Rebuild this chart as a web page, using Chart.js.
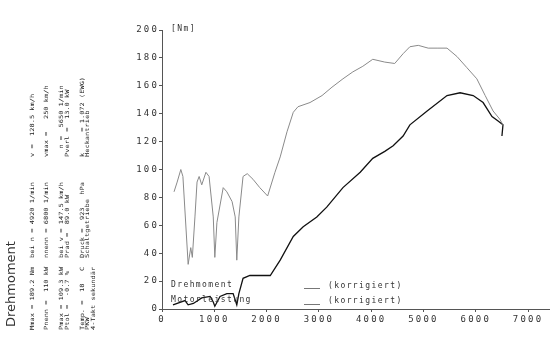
<!DOCTYPE html>
<html>
<head>
<meta charset="utf-8">
<script src="https://cdn.jsdelivr.net/npm/chart.js@4/dist/chart.umd.min.js"></script>
<style>
html,body{margin:0;padding:0;background:#fff;}
#wrap{width:550px;height:354px;}
</style>
</head>
<body>
<div id="wrap"><canvas id="c" width="550" height="354"></canvas></div>
<script>
// ---- data ----
const rpmTorque = [230,290,360,400,500,550,580,630,670,710,760,840,900,980,1010,1050,1170,1240,1340,1400,1430,1470,1550,1630,1740,1870,2020,2160,2260,2390,2510,2600,2830,3060,3250,3460,3650,3840,4030,4260,4450,4610,4740,4900,5090,5260,5450,5640,5830,6020,6180,6330,6460,6520];
const torqueNm  = [84,91,100,95,32,44,37,66,91,95,89,98,95,66,37,62,87,84,77,66,35,66,95,97,93,87,81,98,109,127,141,145,148,153,159,165,170,174,179,177,176,183,188,189,187,187,187,181,173,165,153,142,136,132];

const rpmPower = [210,440,500,600,760,920,980,1010,1110,1240,1360,1430,1470,1550,1680,2010,2070,2260,2510,2700,2960,3150,3460,3790,4030,4260,4420,4610,4740,5070,5450,5700,5950,6140,6310,6420,6520,6500];
const powerKW  = [2.1,4.2,2.1,2.8,5.6,6.3,3.5,1.4,6.3,7.7,7.7,2.1,7.7,15.4,16.8,16.8,16.8,24.5,36.4,41.3,46.2,51.1,60.9,68.6,75.6,79.1,81.9,86.8,92.4,99.4,107.1,108.5,107.1,103.6,96.6,94.5,92.4,86.8];

const xTicks = [0,1000,2000,3000,4000,5000,6000,7000];
const yTicks = [0,20,40,60,80,100,120,140,160,180,200];

const legendNames = ['Drehmoment','Motorleistung'];
const legendNote = '(korrigiert)';
const unitLabel = '[Nm]';
const sideTitle = 'Drehmoment';
const sideInfo = [
  ['Mmax = 189.2 Nm','bei n = 4920 1/min','v =  128.5 km/h'],
  ['Pnenn =  110 kW','nnenn = 6800 1/min','vmax =   250 km/h'],
  ['Pmax = 109.3 kW','bei v = 147.5 km/h','  n =  5650 1/min'],
  ['Ptol =  -0.7 %','Prad =  89.0 kW','Pverl =  13.0 kW'],
  ['Temp. =  18   C','Druck =  923   hPa','k     = 1.072 (EWG)'],
  ['PKW','Schaltgetriebe','Heckantrieb'],
  ['4-Takt sekundär','','']
];

// ---- layout ----
const sideLineX = [33,47,61.5,67.5,82.5,88,93.5];
const sideColY = [330,258,157];

const torquePts = rpmTorque.map((r,i)=>({x:r,y:torqueNm[i]}));
const powerPts = rpmPower.map((r,i)=>({x:r,y:powerKW[i]}));

const decor = {
  id:'decor',
  beforeDraw(chart){ chart.ctx.letterSpacing = '2.2px'; },
  beforeDatasetsDraw(chart){ chart.ctx.letterSpacing = '0px'; },
  afterDraw(chart){
    const ctx = chart.ctx;
    ctx.save();
    ctx.letterSpacing = '0px';
    ctx.fillStyle = '#333';
    ctx.font = '13px "DejaVu Sans"';
    ctx.textBaseline = 'middle';
    ctx.textAlign = 'left';
    ctx.save(); ctx.translate(12, 327); ctx.rotate(-Math.PI/2); ctx.fillText(sideTitle,0,0); ctx.restore();
    ctx.font = '7px "DejaVu Sans Mono"';
    ctx.fillStyle = '#222';
    sideInfo.forEach((row,i)=>{
      row.forEach((t,j)=>{
        if(!t) return;
        ctx.save(); ctx.translate(sideLineX[i], sideColY[j]); ctx.rotate(-Math.PI/2); ctx.scale(1,0.82); ctx.fillText(t,0,0); ctx.restore();
      });
    });
    ctx.letterSpacing = '1.4px';
    ctx.font = '8px "DejaVu Sans Mono"';
    ctx.fillStyle = '#333';
    ctx.fillText(unitLabel, 171, 29);
    ctx.fillText(legendNames[0], 171, 285);
    ctx.fillText(legendNames[1], 171, 300);
    ctx.fillText(legendNote, 328, 286);
    ctx.fillText(legendNote, 328, 301);
    ctx.strokeStyle = '#777';
    ctx.lineWidth = 1;
    ctx.beginPath();
    ctx.moveTo(304, 288.5); ctx.lineTo(320, 288.5);
    ctx.moveTo(304, 304.5); ctx.lineTo(320, 304.5);
    ctx.stroke();
    ctx.restore();
  }
};

new Chart(document.getElementById('c'), {
  type:'line',
  data:{
    datasets:[
      {label:legendNames[0], data:torquePts, yAxisID:'y', borderColor:'#8a8a8a', borderWidth:1, pointRadius:0, tension:0, fill:false},
      {label:legendNames[1], data:powerPts, yAxisID:'y2', borderColor:'#111', borderWidth:1.3, pointRadius:0, tension:0, fill:false}
    ]
  },
  options:{
    responsive:false, animation:false, devicePixelRatio:1,
    layout:{padding:{top:30,right:1,left:0,bottom:0}},
    plugins:{legend:{display:false}, tooltip:{enabled:false}},
    scales:{
      x:{
        type:'linear', min:0, max:7400,
        afterBuildTicks(s){ s.ticks = xTicks.map(v=>({value:v})); },
        afterFit(s){ s.height = 45; },
        grid:{drawOnChartArea:false, tickLength:3, color:'#555'},
        border:{color:'#555', width:1},
        ticks:{font:{family:'"DejaVu Sans Mono"', size:9}, color:'#333', padding:2, maxRotation:0, autoSkip:false, callback:v=>String(v)}
      },
      y:{
        type:'linear', min:0, max:200,
        afterBuildTicks(s){ s.ticks = yTicks.map(v=>({value:v})); },
        afterFit(s){ s.width = 162; },
        grid:{drawOnChartArea:false, tickLength:3, color:'#555'},
        border:{color:'#555', width:1},
        ticks:{font:{family:'"DejaVu Sans Mono"', size:9}, color:'#333', padding:0, autoSkip:false, callback:v=>String(v)}
      },
      y2:{type:'linear', min:0, max:140, display:false}
    }
  },
  plugins:[decor]
});
</script>
</body>
</html>
